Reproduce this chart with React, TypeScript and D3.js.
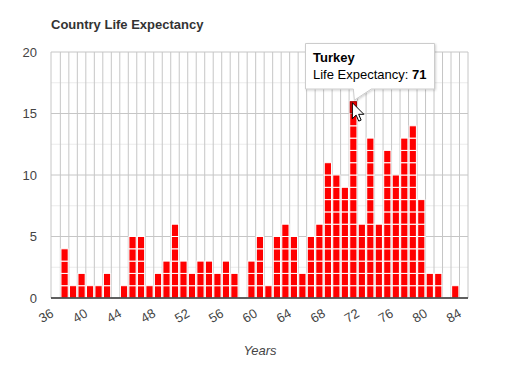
import React from "react";
import * as d3 from "d3";

const bucketStarts = [37,38,39,40,41,42,43,44,45,46,47,48,49,50,51,52,53,54,55,56,57,58,59,60,61,62,63,64,65,66,67,68,69,70,71,72,73,74,75,76,77,78,79,80,81,82,83];
const bucketCounts = [4,1,2,1,1,2,0,1,5,5,1,2,3,6,3,2,3,3,2,3,2,0,3,5,1,5,6,5,2,5,6,11,10,9,16,6,13,6,12,10,13,14,8,2,2,0,1];
const xTicks = [36,40,44,48,52,56,60,64,68,72,76,80,84];
const yTicks = [0,5,10,15,20];
const yMinor = [2.5,7.5,12.5,17.5];
const title = "Country Life Expectancy";
const xTitle = "Years";
const hoverCountry = "Turkey";
const hoverValue = 71;

export default function App() {
  const W = 510, H = 371;
  const left = 51, right = 468, top = 52, bottom = 298;
  const x = d3.scaleLinear().domain([35.9, 85]).range([left, right]);
  const y = d3.scaleLinear().domain([0, 20]).range([bottom, top]);
  const font = "Arial, 'Liberation Sans', sans-serif";
  const bw = x(1) - x(0);
  const barW = bw * 0.85;
  const gridV = d3.range(37, 85);

  const blocks: { key: string; x: number; y: number; h: number; hi: boolean }[] = [];
  bucketStarts.forEach((b, i) => {
    const c = bucketCounts[i];
    for (let k = 0; k < c; k++) {
      blocks.push({
        key: `${b}-${k}`,
        x: x(b) + (bw - barW) / 2,
        y: y(k + 1),
        h: y(k) - y(k + 1),
        hi: b === hoverValue && k === c - 1,
      });
    }
  });

  const hx = x(hoverValue) + bw / 2;
  const hiBlock = blocks.find((b) => b.hi);
  const tipY = hiBlock ? hiBlock.y : 100;
  const boxL = 305.5, boxT = 43.5, boxW = 129, boxH = 45.5;

  return (
    <svg width={W} height={H} style={{ position: "absolute", left: 0, top: 0 }} fontFamily={font}>
      <defs>
        <filter id="sh" x="-10%" y="-10%" width="130%" height="140%">
          <feDropShadow dx="1" dy="1" stdDeviation="1.2" floodColor="#000" floodOpacity="0.18" />
        </filter>
      </defs>
      <rect width={W} height={H} fill="#fff" />
      <text x={left} y={29} fontSize={13} fontWeight="bold" fill="#333">{title}</text>
      {yMinor.map((v) => (
        <line key={"m" + v} x1={left} x2={right} y1={y(v)} y2={y(v)} stroke="#ebebeb" />
      ))}
      {gridV.map((v) => (
        <line key={"v" + v} x1={x(v)} x2={x(v)} y1={top} y2={bottom} stroke="#c6c6c6" />
      ))}
      <line x1={left} x2={left} y1={top} y2={bottom} stroke="#c6c6c6" />
      <line x1={right} x2={right} y1={top} y2={bottom} stroke="#c6c6c6" />
      {yTicks.map((v) => (
        <line key={"h" + v} x1={left} x2={right} y1={y(v)} y2={y(v)} stroke="#c6c6c6" />
      ))}
      {yTicks.map((v) => (
        <text key={"yl" + v} x={37} y={y(v) + 4.6} fontSize={13} fill="#444" textAnchor="end">{v}</text>
      ))}
      {blocks.map((b) => (
        <rect key={b.key} x={b.x} y={b.y} width={barW} height={b.h} fill="#ff0000" stroke="#fff" strokeWidth={1} />
      ))}
      {hiBlock && (
        <rect x={hiBlock.x + 0.5} y={hiBlock.y + 0.5} width={barW - 1} height={hiBlock.h - 1} fill="#ee0000" stroke="#a30000" strokeWidth={1} />
      )}
      <line x1={left} x2={right} y1={bottom} y2={bottom} stroke="#333" strokeWidth={1.3} />
      {xTicks.map((t) => (
        <text
          key={"xl" + t}
          x={x(t) + 1}
          y={313}
          fontSize={13}
          fill="#444"
          textAnchor="end"
          dominantBaseline="middle"
          transform={`rotate(-30 ${x(t) + 1} 313)`}
        >
          {t}
        </text>
      ))}
      <text x={260} y={355} fontSize={13} fontStyle="italic" fill="#444" textAnchor="middle">{xTitle}</text>
      <g filter="url(#sh)">
        <path
          d={`M${boxL},${boxT} H${boxL + boxW} V${boxT + boxH} H${hx + 18} L${hx + 1},${tipY - 1} L${hx + 0},${boxT + boxH} H${boxL} Z`}
          fill="#fff"
          stroke="#cccccc"
          strokeWidth={1}
        />
      </g>
      <text x={313} y={62} fontSize={13} fontWeight="bold" fill="#000">{hoverCountry}</text>
      <text x={313} y={79} fontSize={13} fill="#000">
        Life Expectancy: <tspan fontWeight="bold">{hoverValue}</tspan>
      </text>
      <path
        d={`M${hx - 1},${tipY + 1.5} l0,16 l3.8,-3.6 l2.6,6 l2.4,-1 l-2.5,-5.8 l5.2,0 Z`}
        fill="#fff"
        stroke="#000"
        strokeWidth={1}
        strokeLinejoin="round"
      />
    </svg>
  );
}
